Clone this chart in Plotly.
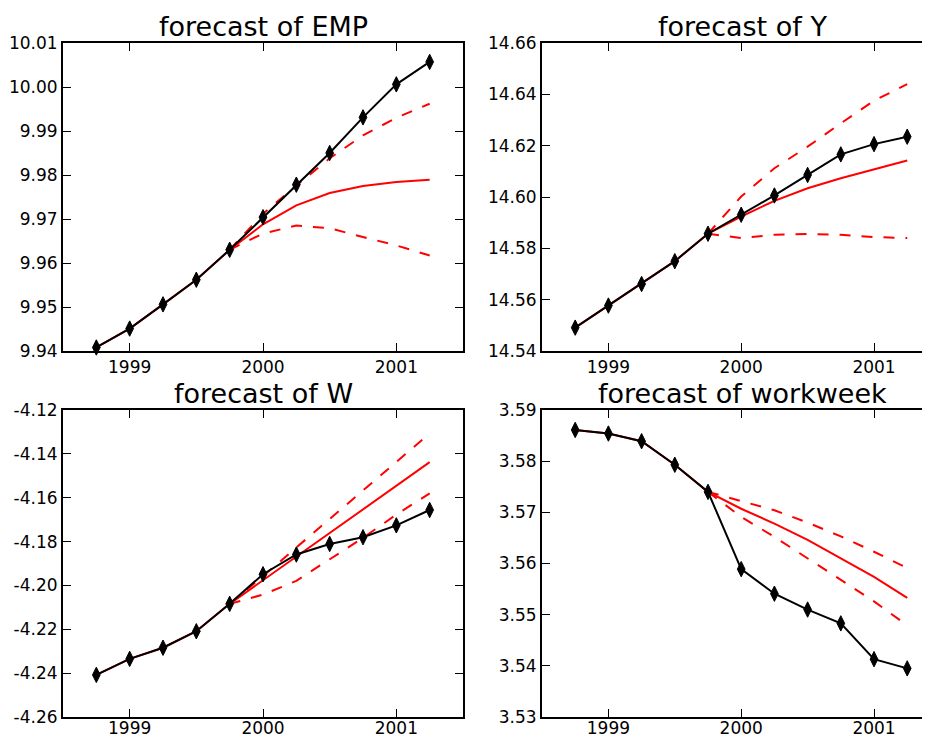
import plotly.graph_objects as go

# ---------------- data ----------------
dates = [1998.75, 1999.0, 1999.25, 1999.5, 1999.75, 2000.0, 2000.25, 2000.5, 2000.75, 2001.0, 2001.25]
fc_dates = [1999.75, 2000.0, 2000.25, 2000.5, 2000.75, 2001.0, 2001.25]

titles = ["forecast of EMP", "forecast of Y", "forecast of W", "forecast of workweek"]

emp_actual = [9.9408, 9.9451, 9.9506, 9.9562, 9.9630, 9.9704, 9.9778, 9.9850, 9.9931, 10.0006, 10.0057]
emp_mean = [9.9408, 9.9451, 9.9506, 9.9562, 9.9630, 9.9688, 9.9731, 9.9759, 9.9775, 9.9784, 9.9789]
emp_upper = [9.9630, 9.9712, 9.9776, 9.9838, 9.9890, 9.9930, 9.9962]
emp_lower = [9.9630, 9.9667, 9.9685, 9.9679, 9.9659, 9.9640, 9.9617]

y_actual = [14.5491, 14.5577, 14.5661, 14.5750, 14.5857, 14.5931, 14.6006, 14.6086, 14.6166, 14.6206, 14.6235]
y_mean = [14.5491, 14.5577, 14.5661, 14.5750, 14.5857, 14.5924, 14.5985, 14.6034, 14.6073, 14.6108, 14.6142]
y_upper = [14.5857, 14.6002, 14.6112, 14.6196, 14.6287, 14.6375, 14.6440]
y_lower = [14.5857, 14.5840, 14.5853, 14.5856, 14.5853, 14.5844, 14.5840]

w_actual = [-4.2408, -4.2335, -4.2284, -4.2209, -4.2084, -4.1949, -4.1859, -4.1811, -4.1780, -4.1726, -4.1656]
w_mean = [-4.2408, -4.2335, -4.2284, -4.2209, -4.2084, -4.1976, -4.1869, -4.1761, -4.1653, -4.1545, -4.1438]
w_upper = [-4.2084, -4.1958, -4.1827, -4.1696, -4.1566, -4.1435, -4.1307]
w_lower = [-4.2084, -4.2042, -4.1979, -4.1881, -4.1783, -4.1677, -4.1580]

ww_actual = [3.5861, 3.5854, 3.5839, 3.5793, 3.5740, 3.5589, 3.5541, 3.5510, 3.5483, 3.5413, 3.5395]
ww_mean = [3.5861, 3.5854, 3.5839, 3.5793, 3.5740, 3.5707, 3.5678, 3.5646, 3.5610, 3.5574, 3.5533]
ww_upper = [3.5740, 3.5722, 3.5704, 3.5680, 3.5653, 3.5623, 3.5591]
ww_lower = [3.5740, 3.5691, 3.5652, 3.5610, 3.5568, 3.5526, 3.5479]

x_ticks = [1999, 2000, 2001]
x_ticklabels = ["1999", "2000", "2001"]

emp_ticks = [9.94, 9.95, 9.96, 9.97, 9.98, 9.99, 10.00, 10.01]
y_ticks = [14.54, 14.56, 14.58, 14.60, 14.62, 14.64, 14.66]
w_ticks = [-4.26, -4.24, -4.22, -4.20, -4.18, -4.16, -4.14, -4.12]
ww_ticks = [3.53, 3.54, 3.55, 3.56, 3.57, 3.58, 3.59]

emp_ticklabels = ["9.94", "9.95", "9.96", "9.97", "9.98", "9.99", "10.00", "10.01"]
y_ticklabels = ["14.54", "14.56", "14.58", "14.60", "14.62", "14.64", "14.66"]
w_ticklabels = ["-4.26", "-4.24", "-4.22", "-4.20", "-4.18", "-4.16", "-4.14", "-4.12"]
ww_ticklabels = ["3.53", "3.54", "3.55", "3.56", "3.57", "3.58", "3.59"]

panels = [
    (emp_actual, emp_mean, emp_upper, emp_lower, emp_ticks, emp_ticklabels),
    (y_actual, y_mean, y_upper, y_lower, y_ticks, y_ticklabels),
    (w_actual, w_mean, w_upper, w_lower, w_ticks, w_ticklabels),
    (ww_actual, ww_mean, ww_upper, ww_lower, ww_ticks, ww_ticklabels),
]

# ---------------- layout geometry ----------------
# The page body has an 8px margin; the figure starts 8px in from the window corner
OFF = 8
W, H = 930 - 2 * OFF, 746 - 2 * OFF


def px_x(p):
    return (p - OFF) / W


def px_y(p):
    return 1 - (p - OFF) / H


# right column runs off the right edge of the picture (its right spine is cut off)
x_domains = [[px_x(63), px_x(463)], [px_x(542), 1.0]]
x_ranges = [[1998.5, 2001.5], [1998.5, 1999 + (930 - 8 - 608.3) / 132.85]]
# bottom row nudged up a little so its tick labels stay inside the figure
y_domains = [[px_y(351), px_y(43)], [px_y(717), px_y(410)]]

FONT = "DejaVu Sans, Liberation Sans, sans-serif"
RED = "#ff0000"

fig = go.Figure()
layout = dict(
    width=W, height=H,
    margin=dict(l=0, r=0, t=0, b=0, autoexpand=False),
    paper_bgcolor="white", plot_bgcolor="white",
    showlegend=False,
    font=dict(family=FONT, color="black", size=17),
    annotations=[],
)

for i, (actual, mean, upper, lower, yt, ytl) in enumerate(panels):
    r, c = divmod(i, 2)
    n = i + 1
    xa = "x" if n == 1 else f"x{n}"
    ya = "y" if n == 1 else f"y{n}"
    dash_line = dict(color=RED, width=2, dash="11px,11px")
    fig.add_trace(go.Scatter(x=fc_dates, y=upper, mode="lines", line=dash_line, xaxis=xa, yaxis=ya, hoverinfo="skip"))
    fig.add_trace(go.Scatter(x=fc_dates, y=lower, mode="lines", line=dash_line, xaxis=xa, yaxis=ya, hoverinfo="skip"))
    fig.add_trace(go.Scatter(x=dates, y=mean, mode="lines", line=dict(color=RED, width=2), xaxis=xa, yaxis=ya))
    fig.add_trace(go.Scatter(
        x=dates, y=actual, mode="lines+markers",
        line=dict(color="black", width=2),
        marker=dict(symbol="diamond-tall", size=11, color="black", line=dict(color="black", width=1)),
        xaxis=xa, yaxis=ya, cliponaxis=False,
    ))
    axis_common = dict(
        showgrid=False, zeroline=False, automargin=False,
        showline=True, linecolor="black", linewidth=2, mirror="ticks",
        ticks="inside", ticklen=8, tickwidth=1, tickcolor="black",
        tickfont=dict(family=FONT, size=17, color="black"),
    )
    xax = dict(
        axis_common, domain=x_domains[c], anchor=ya, range=x_ranges[c],
        tickmode="array", tickvals=x_ticks, ticktext=x_ticklabels,
    )
    if r == 1:
        xax["ticklabelstandoff"] = -5
    layout["xaxis" if n == 1 else f"xaxis{n}"] = xax
    yax = dict(
        axis_common, domain=y_domains[r], anchor=xa, range=[yt[0], yt[-1]],
        tickmode="array", tickvals=yt, ticktext=ytl,
    )
    if c == 1:
        yax["mirror"] = False
    layout["yaxis" if n == 1 else f"yaxis{n}"] = yax
    layout["annotations"].append(dict(
        text=titles[i], xref="paper", yref="paper",
        x=px_x(263) if c == 0 else px_x(742), y=y_domains[r][1],
        xanchor="center", yanchor="bottom", showarrow=False, yshift=-1,
        font=dict(family=FONT, size=27, color="black"),
    ))

fig.update_layout(**layout)
fig.write_html("out.html")
